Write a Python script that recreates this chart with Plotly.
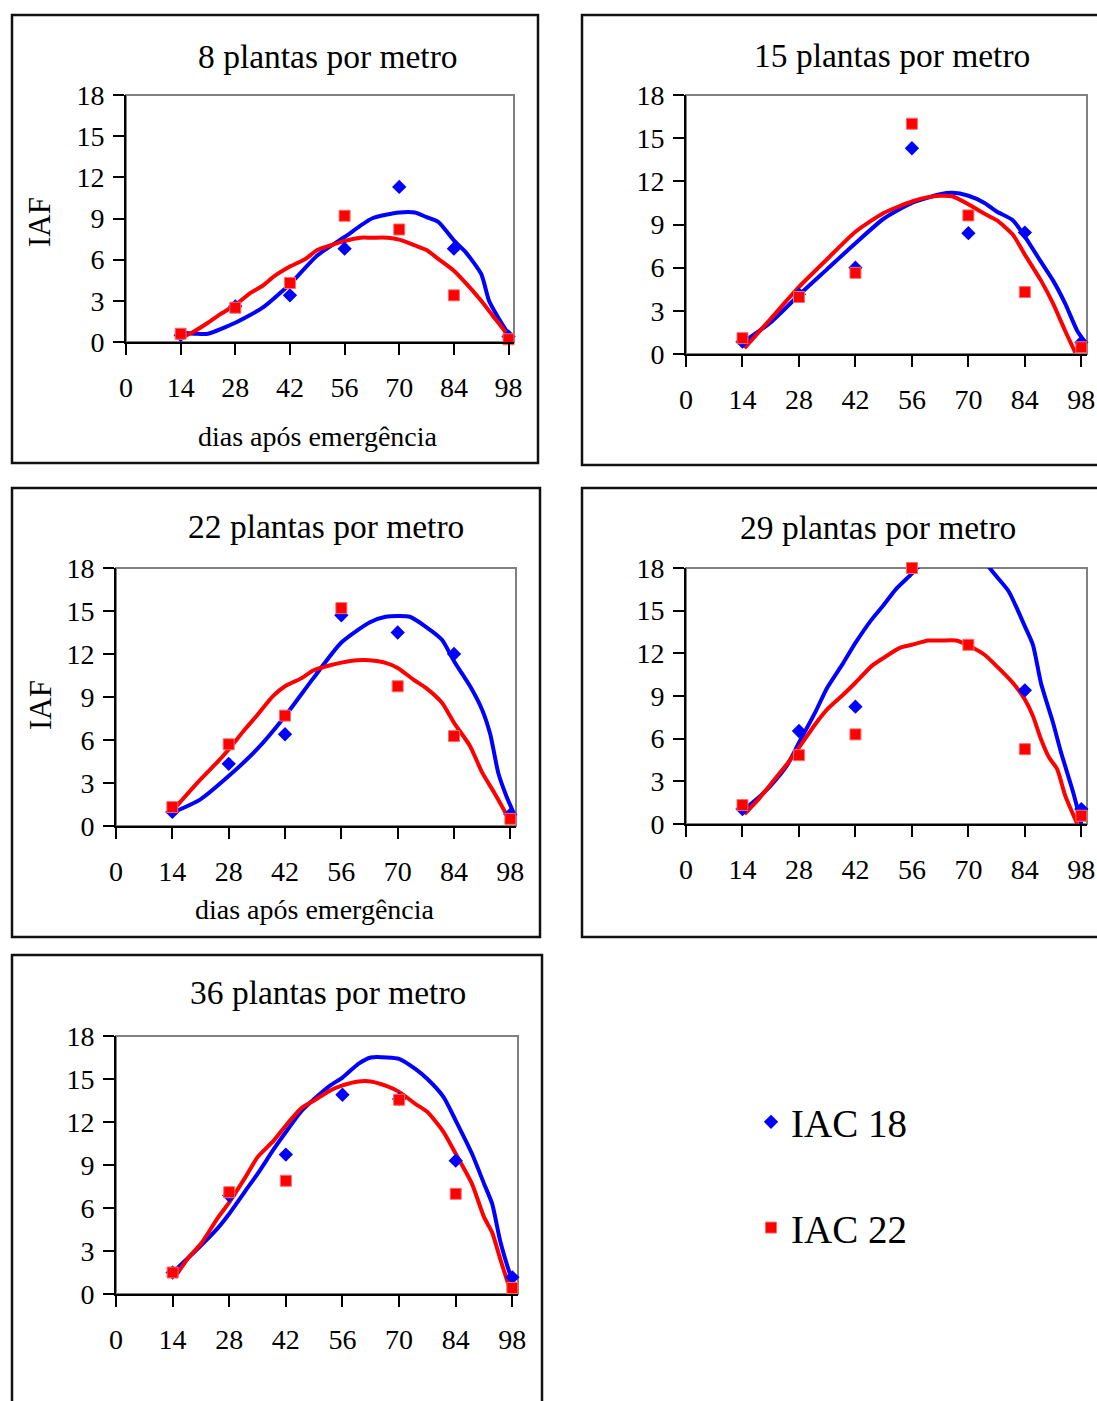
import plotly.graph_objects as go

# ---------------- data ----------------
DAYS = [14, 28, 42, 56, 70, 84, 98]
X_TICKS = [0, 14, 28, 42, 56, 70, 84, 98]
Y_TICKS = [0, 3, 6, 9, 12, 15, 18]
SERIES = ["IAC 18", "IAC 22"]
TITLES = ["8 plantas por metro", "15 plantas por metro", "22 plantas por metro",
          "29 plantas por metro", "36 plantas por metro"]

# observed IAF (points)
obs18_p1 = [0.5, 2.6, 3.4, 6.8, 11.3, 6.8, 0.4]
obs22_p1 = [0.6, 2.5, 4.3, 9.2, 8.2, 3.4, 0.2]
obs18_p2 = [0.86, 4.15, 6.0, 14.3, 8.4, 8.44, 0.8]
obs22_p2 = [1.1, 3.96, 5.64, 16.0, 9.63, 4.3, 0.47]
obs18_p3 = [0.98, 4.34, 6.4, 14.7, 13.5, 12.0, 0.8]
obs22_p3 = [1.32, 5.7, 7.7, 15.2, 9.75, 6.27, 0.5]
obs18_p4 = [1.05, 6.54, 8.25, None, None, 9.4, 1.05]
obs22_p4 = [1.33, 4.84, 6.3, 18.0, 12.6, 5.26, 0.58]
obs18_p5 = [1.5, 6.87, 9.73, 13.9, 13.6, 9.3, 1.16]
obs22_p5 = [1.5, 7.1, 7.9, None, 13.55, 6.99, 0.42]

# fitted curves
fit18_p1_d = [14, 18, 21, 28, 35, 40, 42, 49, 56, 63, 70, 74, 77, 80, 84, 87, 91, 93, 95.3, 97.5, 99]
fit18_p1_v = [0.7, 0.6, 0.6, 1.4, 2.5, 3.7, 4.2, 6.3, 7.65, 9.0, 9.44, 9.44, 9.1, 8.75, 7.4, 6.55, 4.96, 3.0, 1.8, 0.8, 0.2]
fit22_p1_d = [14, 17, 21, 24, 28, 32, 35, 38, 42, 46, 49, 53, 56, 60, 63, 67, 70, 74, 77, 80, 84, 88, 91, 94, 97, 98.5]
fit22_p1_v = [0.3, 0.7, 1.4, 2.0, 2.7, 3.6, 4.1, 4.8, 5.5, 6.06, 6.7, 7.1, 7.36, 7.6, 7.6, 7.6, 7.46, 7.04, 6.7, 6.06, 5.2, 4.0, 3.0, 1.9, 0.8, 0.07]

fit18_p2_d = [14, 21, 28, 35, 42, 49, 56, 63, 66, 70, 74, 77, 81, 84, 88, 91, 94, 97, 99]
fit18_p2_v = [0.8, 2.2, 4.1, 5.9, 7.7, 9.4, 10.5, 11.1, 11.2, 11.0, 10.5, 9.9, 9.3, 8.16, 6.4, 5.1, 3.5, 1.6, 0.8]
fit22_p2_d = [14.5, 21, 28, 35, 42, 49, 56, 60, 63, 66, 70, 74, 77, 81, 84, 88, 91, 94, 96.5]
fit22_p2_v = [0.4, 2.45, 4.66, 6.6, 8.5, 9.8, 10.6, 10.9, 11.0, 10.96, 10.4, 9.74, 9.3, 8.3, 6.9, 5.1, 3.5, 1.6, 0.1]

fit18_p3_d = [14, 21, 28, 35, 42, 49, 56, 63, 67, 73, 77, 81, 84, 88, 91, 93, 95, 97, 99]
fit18_p3_v = [0.93, 1.86, 3.48, 5.34, 7.66, 10.3, 12.8, 14.2, 14.6, 14.6, 13.9, 13.0, 11.5, 9.75, 8.1, 6.4, 3.7, 2.1, 0.8]
fit22_p3_d = [14, 21, 25, 28, 32, 35, 39, 42, 46, 49, 53, 56, 60, 63, 67, 70, 74, 77, 81, 84, 88, 91, 94, 97, 98]
fit22_p3_v = [1.05, 3.25, 4.4, 5.34, 6.73, 7.7, 9.06, 9.75, 10.3, 10.85, 11.2, 11.4, 11.56, 11.56, 11.38, 11.03, 10.2, 9.64, 8.6, 7.2, 5.57, 3.72, 2.32, 0.8, 0.2]

fit18_p4_d = [14, 18, 21, 25, 28, 32, 35, 39, 42, 46, 49, 52, 56, 60, 63, 66, 70, 73, 75, 77, 80, 84, 86, 88, 91, 93, 96, 98]
fit18_p4_v = [0.93, 1.87, 2.7, 4.1, 5.72, 7.83, 9.58, 11.33, 12.73, 14.37, 15.4, 16.5, 17.6, 18.8, 19.4, 19.6, 19.4, 18.8, 18.1, 17.4, 16.35, 13.9, 12.6, 9.9, 7.1, 5.0, 2.2, 0.0]
fit22_p4_d = [14.5, 18, 21, 25, 28, 32, 35, 39, 42, 46, 49, 53, 56, 60, 63, 67, 70, 74, 77, 81, 84, 86, 88, 90, 92, 94, 97]
fit22_p4_v = [0.7, 1.75, 2.8, 4.2, 5.37, 7.0, 8.06, 9.1, 9.93, 11.1, 11.68, 12.38, 12.6, 12.9, 12.9, 12.9, 12.55, 11.9, 11.1, 9.93, 8.76, 7.6, 5.96, 4.67, 3.86, 2.0, 0.0]

fit18_p5_d = [14.5, 18, 21, 25, 28, 32, 35, 39, 42, 46, 49, 53, 56, 60, 63, 67, 70, 74, 77, 81, 84, 88, 91, 93, 95, 97, 98]
fit18_p5_v = [1.63, 2.56, 3.38, 4.54, 5.6, 7.2, 8.38, 10.1, 11.3, 12.8, 13.6, 14.55, 15.1, 16.07, 16.5, 16.5, 16.4, 15.7, 15.0, 13.74, 12.1, 9.8, 7.7, 6.3, 3.7, 1.75, 0.93]
fit22_p5_d = [14.5, 18, 21, 25, 28, 32, 35, 39, 42, 46, 49, 53, 56, 60, 63, 67, 70, 74, 77, 81, 84, 88, 91, 93, 95, 97.5]
fit22_p5_v = [1.16, 2.56, 3.5, 5.24, 6.4, 8.15, 9.55, 10.7, 11.76, 13.0, 13.5, 14.2, 14.55, 14.83, 14.83, 14.5, 14.1, 13.27, 12.7, 11.3, 9.78, 7.7, 5.36, 4.3, 2.45, 0.23]

OBS18 = [obs18_p1, obs18_p2, obs18_p3, obs18_p4, obs18_p5]
OBS22 = [obs22_p1, obs22_p2, obs22_p3, obs22_p4, obs22_p5]
FIT18 = [(fit18_p1_d, fit18_p1_v), (fit18_p2_d, fit18_p2_v), (fit18_p3_d, fit18_p3_v),
         (fit18_p4_d, fit18_p4_v), (fit18_p5_d, fit18_p5_v)]
FIT22 = [(fit22_p1_d, fit22_p1_v), (fit22_p2_d, fit22_p2_v), (fit22_p3_d, fit22_p3_v),
         (fit22_p4_d, fit22_p4_v), (fit22_p5_d, fit22_p5_v)]

# ---------------- layout geometry (pixels) ----------------
W, H = 1097, 1401
FONT = "Liberation Serif, Times New Roman, serif"
BLUE, RED = "#0000FF", "#FF0000"

# plot areas: (left, right, top, bottom)
AREAS = [(126, 514, 95, 342), (686, 1087, 95, 354), (116, 516, 568, 826),
         (686, 1087, 568, 824), (116, 518, 1036, 1294)]
# outer boxes: (left, right, top, bottom)
BOXES = [(12, 538, 15, 463), (582, 1110, 15, 465), (12, 540, 488, 937),
         (582, 1110, 488, 937), (12, 542, 955, 1415)]
TITLE_POS = [(328, 57), (892, 55), (326, 526), (878, 528), (328, 992)]


def fx(px):
    return px / W


def fy(py):
    return 1 - py / H


fig = go.Figure()

for i in range(5):
    n = "" if i == 0 else str(i + 1)
    xa, ya = "x" + n, "y" + n
    fig.add_trace(go.Scatter(x=FIT18[i][0], y=FIT18[i][1], mode="lines",
                             line=dict(color=BLUE, width=4, shape="spline", smoothing=0.6),
                             xaxis=xa, yaxis=ya, showlegend=False, hoverinfo="skip"))
    fig.add_trace(go.Scatter(x=FIT22[i][0], y=FIT22[i][1], mode="lines",
                             line=dict(color=RED, width=4, shape="spline", smoothing=0.6),
                             xaxis=xa, yaxis=ya, showlegend=False, hoverinfo="skip"))
    fig.add_trace(go.Scatter(x=DAYS, y=OBS18[i], mode="markers", name=SERIES[0],
                             marker=dict(symbol="diamond", size=11, color=BLUE, line=dict(width=0)),
                             xaxis=xa, yaxis=ya, cliponaxis=False,
                             legendgroup="a", showlegend=(i == 0)))
    fig.add_trace(go.Scatter(x=DAYS, y=OBS22[i], mode="markers", name=SERIES[1],
                             marker=dict(symbol="square", size=11, color=RED,
                                         line=dict(width=1, color="#ff6a6a")),
                             xaxis=xa, yaxis=ya, cliponaxis=False,
                             legendgroup="b", showlegend=(i == 0)))

layout = dict(
    width=W, height=H, margin=dict(l=0, r=0, t=0, b=0, autoexpand=False),
    paper_bgcolor="white", plot_bgcolor="white",
    font=dict(family=FONT, color="black"),
    legend=dict(x=fx(751), y=fy(1090), xanchor="left", yanchor="top",
                font=dict(family=FONT, size=39, color="black"),
                tracegroupgap=52, bgcolor="rgba(0,0,0,0)"),
)
shapes = []
annotations = []
for i, (l, r, t, b) in enumerate(AREAS):
    n = "" if i == 0 else str(i + 1)
    layout["xaxis" + n] = dict(
        domain=[fx(l), fx(r)], range=[0, 99.4], anchor="y" + n, automargin=False,
        tickmode="array", tickvals=X_TICKS, ticks="outside", ticklen=11, tickwidth=2,
        tickcolor="black", showline=True, linecolor="black", linewidth=2,
        showgrid=False, zeroline=False, fixedrange=True,
        tickfont=dict(family=FONT, size=28, color="black"), ticklabelstandoff=8)
    layout["yaxis" + n] = dict(
        domain=[fy(b), fy(t)], range=[0, 18], anchor="x" + n, automargin=False,
        tickmode="array", tickvals=Y_TICKS, ticks="outside", ticklen=11, tickwidth=2,
        tickcolor="black", showline=True, linecolor="black", linewidth=2,
        showgrid=False, zeroline=False, fixedrange=True,
        tickfont=dict(family=FONT, size=28, color="black"), ticklabelstandoff=3)
    # grey top/right frame of the plot area
    shapes.append(dict(type="rect", xref="x" + n + " domain", yref="y" + n + " domain",
                       x0=0, x1=1, y0=0, y1=1, line=dict(color="#808080", width=2),
                       layer="below"))
    bl, br, bt, bb = BOXES[i]
    shapes.append(dict(type="rect", xref="paper", yref="paper",
                       x0=fx(bl), x1=fx(br), y0=fy(bb), y1=fy(bt),
                       line=dict(color="#111111", width=2.5), layer="below"))
    tx, ty = TITLE_POS[i]
    annotations.append(dict(text=TITLES[i], x=fx(tx), y=fy(ty), xref="paper", yref="paper",
                            showarrow=False, xanchor="center", yanchor="middle",
                            font=dict(family=FONT, size=33.5, color="black")))

for (tx, ty) in [(318, 436), (315, 909)]:
    annotations.append(dict(text="dias após emergência", x=fx(tx), y=fy(ty), xref="paper",
                            yref="paper", showarrow=False, xanchor="center", yanchor="middle",
                            font=dict(family=FONT, size=28, color="black")))
for (tx, ty) in [(40, 222), (40, 705)]:
    annotations.append(dict(text="IAF", x=fx(tx), y=fy(ty), xref="paper", yref="paper",
                            showarrow=False, xanchor="center", yanchor="middle", textangle=-90,
                            font=dict(family=FONT, size=31, color="black")))

layout["shapes"] = shapes
layout["annotations"] = annotations
fig.update_layout(**layout)
fig.write_html("out.html")
